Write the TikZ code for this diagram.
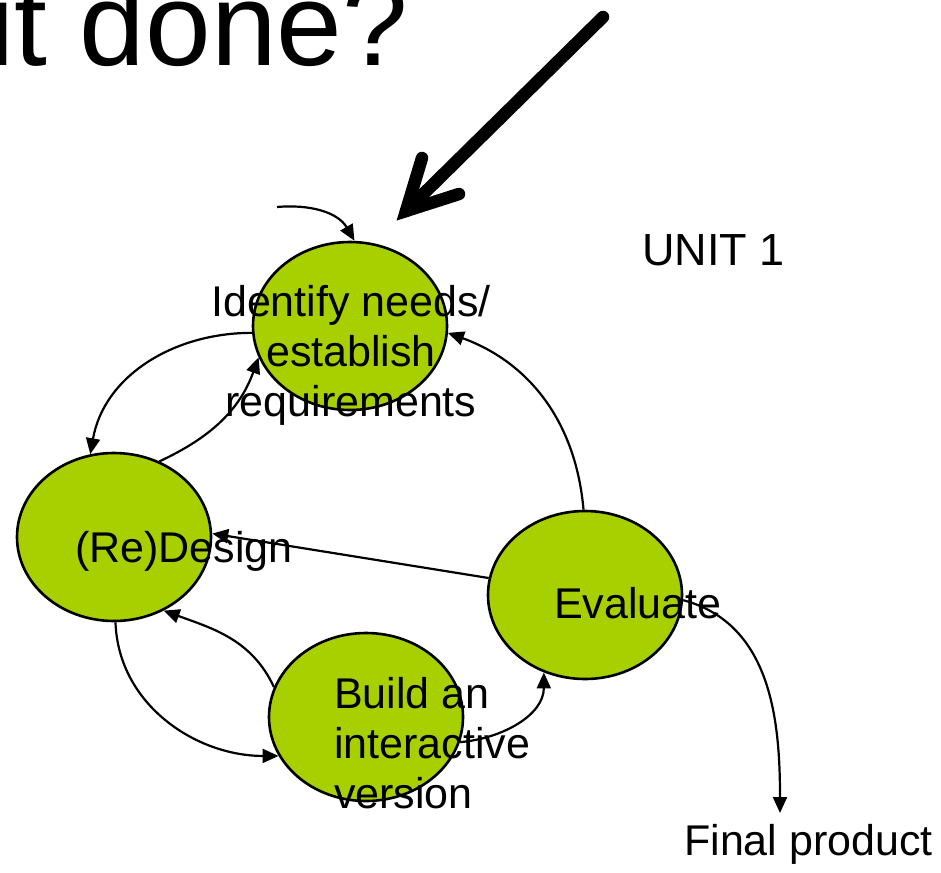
\documentclass[tikz,border=0pt]{standalone}
\usepackage{fontspec}
\setmainfont{Liberation Sans}
\usetikzlibrary{shapes.geometric,arrows.meta}
\definecolor{stagegreen}{RGB}{168,208,0}
\begin{document}
\begin{tikzpicture}[x=1pt,y=1pt,
  stage/.style={ellipse,draw=black,line width=2.6pt,fill=stagegreen,minimum width=194pt,minimum height=168pt,inner sep=0pt},
  lbl/.style={inner sep=0pt,font=\fontsize{43}{50}\selectfont},
  conn/.style={line width=2.2pt,-{Triangle[length=16pt,width=14pt]}},
  bigarrow/.style={line width=12.5pt,line cap=round}]
\useasboundingbox (0,0) rectangle (941,-872);
\clip (0,0) rectangle (941,-872);
% title
\node[anchor=base west,inner sep=0pt,font=\fontsize{118}{120}\selectfont] (title) at (-12,-66) {it done?};
% big arrow
\coordinate (bigS) at (603,-17);
\coordinate (bigA) at (406,-211);
\coordinate (bigL) at (422,-158);
\coordinate (bigR) at (459,-194);
\draw[bigarrow] (bigS) -- (bigA);
\draw[bigarrow,line join=miter] (bigL) -- (bigA) -- (bigR);
% stages
\node[stage] (idn) at (350,-326) {};
\node[stage] (des) at (114,-537) {};
\node[stage] (bld) at (366,-717) {};
\node[stage] (evl) at (585,-595) {};
% labels
\node[lbl,align=center] (tidn) at (351,-355) {Identify needs/\\establish\\requirements};
\node[lbl,anchor=base west] (tdes) at (75,-562) {(Re)Design};
\node[lbl,align=left,anchor=west] (tbld) at (334,-743) {Build an\\interactive\\version};
\node[lbl,anchor=base west] (tevl) at (554,-618) {Evaluate};
\node[inner sep=0pt,font=\fontsize{45}{50}\selectfont,anchor=base west] (unit) at (642,-265) {UNIT 1};
\node[lbl,anchor=base west] (final) at (684,-855) {Final product};
% connectors
\coordinate (in0) at (277,-207);
\coordinate (fp) at (780,-813);
\draw[conn] (in0) to[out=5,in=120] (idn.87);
\draw[conn] (idn.184) to[out=180,in=80] (des.106);
\draw[conn] (des.59) to[out=25,in=-110] (idn.199);
\draw[conn] (evl.91) to[out=95,in=-20] (idn.356);
\draw[conn] (evl.170) -- (des.2);
\draw[conn] (bld.162) to[out=115,in=-20] (des.304);
\draw[conn] (des.271) to[out=-88,in=180] (bld.204);
\draw[conn] (bld.345) to[out=5,in=-90] (evl.242);
\draw[conn] (evl.357) to[out=-15,in=90] (fp);
\end{tikzpicture}
\end{document}
